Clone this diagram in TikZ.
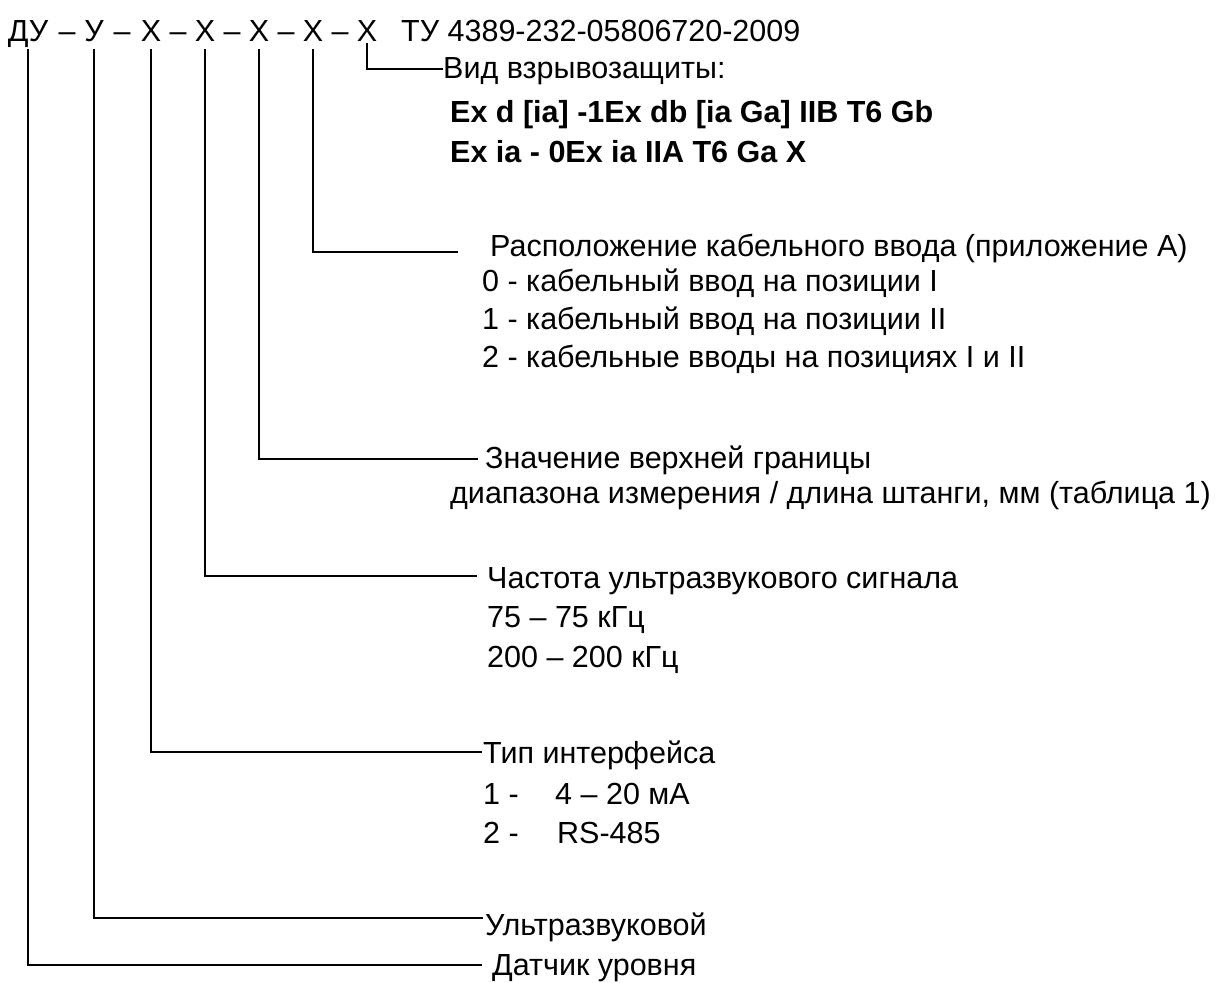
\documentclass[tikz,border=0pt]{standalone}
\usepackage{fontspec}
\setmainfont{Liberation Sans}
\begin{document}
\begin{tikzpicture}[x=1pt,y=-1pt,
  lbl/.style={anchor=base west, inner sep=0pt, font=\fontsize{30.5}{36}\selectfont},
  bld/.style={anchor=base west, inner sep=0pt, font=\fontsize{30.5}{36}\selectfont\bfseries},
  code/.style={anchor=base, inner sep=0pt, font=\fontsize{30.5}{36}\selectfont},
  lead/.style={line width=2pt, draw=black}]
\useasboundingbox (0,0) rectangle (1220,982);

% header
\node[code] (cDU) at (28,42) {ДУ};
\node[code] (d1) at (67,42) {–};
\node[code] (cU) at (94,42) {У};
\node[code] (d2) at (122,42) {–};
\node[code] (x1) at (151,42) {Х};
\node[code] (d3) at (178,42) {–};
\node[code] (x2) at (205,42) {Х};
\node[code] (d4) at (232,42) {–};
\node[code] (x3) at (259,42) {Х};
\node[code] (d5) at (286,42) {–};
\node[code] (x4) at (313,42) {Х};
\node[code] (d6) at (340,42) {–};
\node[code] (x5) at (367,42) {Х};
\node[lbl] (tu) at (401,42) {ТУ 4389-232-05806720-2009};

% labels
\node[lbl] (vid) at (443,78) {Вид взрывозащиты:};
\node[bld] (ex1) at (450,122) {Ex d [ia] -1Ex db [ia Ga] IIB T6 Gb};
\node[bld] (ex2) at (450,162) {Ex ia - 0Ex ia IIA T6 Ga X};
\node[lbl] (pos) at (490,256) {Расположение кабельного ввода (приложение А)};
\node[lbl] (p0) at (482,291) {0 - кабельный ввод на позиции I};
\node[lbl] (p1) at (482,329) {1 - кабельный ввод на позиции II};
\node[lbl] (p2) at (482,367) {2 - кабельные вводы на позициях I и II};
\node[lbl] (zn) at (485,468) {Значение верхней границы};
\node[lbl] (zn2) at (450,503) {диапазона измерения / длина штанги, мм (таблица 1)};
\node[lbl] (ch) at (487,588) {Частота ультразвукового сигнала};
\node[lbl] (ch1) at (487,627) {75 – 75 кГц};
\node[lbl] (ch2) at (487,667) {200 – 200 кГц};
\node[lbl] (ti) at (483,763) {Тип интерфейса};
\node[lbl] (ti1) at (483,804) {\makebox[72pt][l]{1 -}4 – 20 мА};
\node[lbl] (ti2) at (483,843) {\makebox[74pt][l]{2 -}RS-485};
\node[lbl] (ul) at (485,935) {Ультразвуковой};
\node[lbl] (da) at (492,975) {Датчик уровня};

% connector ends
\coordinate (e5) at (443,69);
\coordinate (e4) at (458,252);
\coordinate (e3) at (478,459);
\coordinate (e2) at (477,576);
\coordinate (e1) at (482,752);
\coordinate (eU) at (483,918);
\coordinate (eD) at (482,965);

% connectors
\draw[lead] ([yshift=-1pt]x5.south) |- (e5);
\draw[lead] ([yshift=-7pt]x4.south) |- (e4);
\draw[lead] ([yshift=-7pt]x3.south) |- (e3);
\draw[lead] ([yshift=-7pt]x2.south) |- (e2);
\draw[lead] ([yshift=-7pt]x1.south) |- (e1);
\draw[lead] ([yshift=-7pt]cU.south) |- (eU);
\draw[lead] ([yshift=-1pt]cDU.south) |- (eD);
\end{tikzpicture}
\end{document}
